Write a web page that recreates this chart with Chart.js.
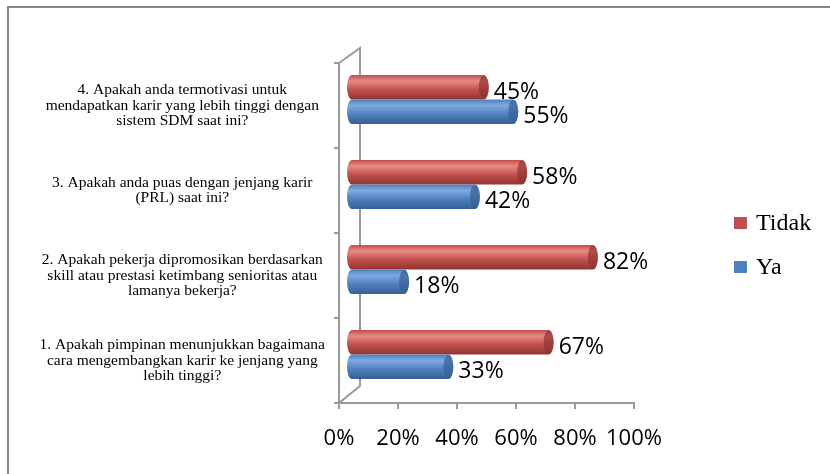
<!DOCTYPE html>
<html>
<head>
<meta charset="utf-8">
<script src="https://cdn.jsdelivr.net/npm/chart.js@4.4.0/dist/chart.umd.min.js"></script>
<style>
    html, body { margin: 0; padding: 0; background: #fff; }
    #wrap { width: 830px; height: 474px; }
</style>
</head>
<body>
<div id="wrap"><canvas id="myChart"></canvas></div>
<script>
// Chart data
const questions = [
    ["4. Apakah anda termotivasi untuk", "mendapatkan karir yang lebih tinggi dengan", "sistem SDM saat ini?"],
    ["3. Apakah anda puas dengan jenjang karir", "(PRL) saat ini?"],
    ["2. Apakah pekerja dipromosikan berdasarkan", "skill atau prestasi ketimbang senioritas atau", "lamanya bekerja?"],
    ["1. Apakah pimpinan menunjukkan bagaimana", "cara mengembangkan karir ke jenjang yang", "lebih tinggi?"],
];
const tidakValues = [45, 58, 82, 67];
const yaValues = [55, 42, 18, 33];
const seriesNames = ["Tidak", "Ya"];
const xTicks = [0, 20, 40, 60, 80, 100];

const gray = "#9a9a9a";
const palette = [
    { light: "#e88886", mid: "#c0504d", dark: "#8f3533" },
    { light: "#7eaae0", mid: "#4f81bd", dark: "#345f93" },
];

// 3D look: bars sit a little behind the front axis plane
const depthX = 12;
const depthY = -6;

const cylinderPlugin = {
    id: "cylinders",
    afterDatasetsDraw(chart) {
        const ctx = chart.ctx;
        chart.data.datasets.forEach(function (ds, di) {
            const meta = chart.getDatasetMeta(di);
            const col = palette[di];
            meta.data.forEach(function (bar, i) {
                const x0 = bar.base + depthX;
                const x1 = bar.x + depthX;
                const h = bar.height;
                const yc = bar.y + depthY;
                const top = yc - h / 2;
                const rx = 5;
                const grad = ctx.createLinearGradient(0, top, 0, top + h);
                grad.addColorStop(0, col.mid);
                grad.addColorStop(0.25, col.light);
                grad.addColorStop(0.6, col.mid);
                grad.addColorStop(1, col.dark);
                ctx.save();
                ctx.fillStyle = grad;
                ctx.beginPath();
                ctx.ellipse(x0, yc, rx, h / 2, 0, Math.PI / 2, Math.PI * 1.5);
                ctx.lineTo(x1, top);
                ctx.ellipse(x1, yc, rx, h / 2, 0, -Math.PI / 2, Math.PI / 2);
                ctx.closePath();
                ctx.fill();
                // end cap
                ctx.fillStyle = col.dark;
                ctx.globalAlpha = 0.7;
                ctx.beginPath();
                ctx.ellipse(x1, yc, rx, h / 2 - 0.5, 0, 0, Math.PI * 2);
                ctx.fill();
                ctx.globalAlpha = 1;
                // value label
                ctx.fillStyle = "#000";
                ctx.font = "23px 'Open Sans'";
                ctx.textAlign = "left";
                ctx.textBaseline = "middle";
                ctx.fillText(ds.data[i] + "%", x1 + 10, yc + 5);
                ctx.restore();
            });
        });
    },
};

const framePlugin = {
    id: "frame",
    beforeDraw(chart) {
        const ctx = chart.ctx;
        const a = chart.chartArea;
        ctx.save();
        ctx.strokeStyle = "#888";
        ctx.lineWidth = 2;
        ctx.beginPath();
        ctx.moveTo(8, 474);
        ctx.lineTo(8, 7);
        ctx.lineTo(830, 7);
        ctx.stroke();
        // back wall of the 3D axis
        ctx.strokeStyle = gray;
        ctx.beginPath();
        ctx.moveTo(a.left, a.top);
        ctx.lineTo(a.left + 21, a.top - 15);
        ctx.lineTo(a.left + 21, a.bottom - 17);
        ctx.lineTo(a.left, a.bottom);
        ctx.stroke();
        ctx.restore();
    },
    afterDraw(chart) {
        const ctx = chart.ctx;
        ctx.save();
        ctx.font = "24px 'Liberation Serif'";
        ctx.textBaseline = "middle";
        ctx.textAlign = "left";
        const ys = [223, 267];
        seriesNames.forEach(function (name, i) {
            ctx.fillStyle = palette[i].mid;
            ctx.fillRect(734, ys[i] - 6, 13, 12);
            ctx.fillStyle = "#000";
            ctx.fillText(name, 756, ys[i] + 1);
        });
        ctx.restore();
    },
};

const ctx = document.getElementById("myChart");

new Chart(ctx, {
    type: "bar",
    data: {
        labels: questions,
        datasets: [
            { label: seriesNames[0], data: tidakValues, backgroundColor: "rgba(0,0,0,0)" },
            { label: seriesNames[1], data: yaValues, backgroundColor: "rgba(0,0,0,0)" },
        ],
    },
    options: {
        indexAxis: "y",
        responsive: true,
        maintainAspectRatio: false,
        animation: false,
        categoryPercentage: 0.576,
        barPercentage: 1,
        layout: { padding: { top: 63, right: 196, bottom: 0, left: 0 } },
        plugins: {
            legend: { display: false },
            tooltip: { enabled: false },
        },
        scales: {
            x: {
                min: 0,
                max: 100,
                afterBuildTicks(scale) {
                    scale.ticks = xTicks.map((v) => ({ value: v }));
                },
                afterFit(scale) {
                    scale.height = 71;
                },
                grid: { drawOnChartArea: false, tickLength: 6, color: gray, lineWidth: 2 },
                border: { color: gray, width: 2 },
                ticks: {
                    color: "#000",
                    padding: 17,
                    maxRotation: 0,
                    minRotation: 0,
                    autoSkip: false,
                    font: { family: "'Open Sans'", size: 22 },
                    callback: (v) => v + "%",
                },
            },
            y: {
                afterFit(scale) {
                    scale.width = 339;
                },
                grid: { drawOnChartArea: false, tickLength: 5, color: gray, lineWidth: 2, offset: true },
                border: { color: gray, width: 2 },
                ticks: {
                    color: "#000",
                    crossAlign: "center",
                    padding: 9,
                    font: { family: "'Liberation Serif'", size: 15.5, lineHeight: 1.0 },
                },
            },
        },
    },
    plugins: [framePlugin, cylinderPlugin],
});
</script>
</body>
</html>
